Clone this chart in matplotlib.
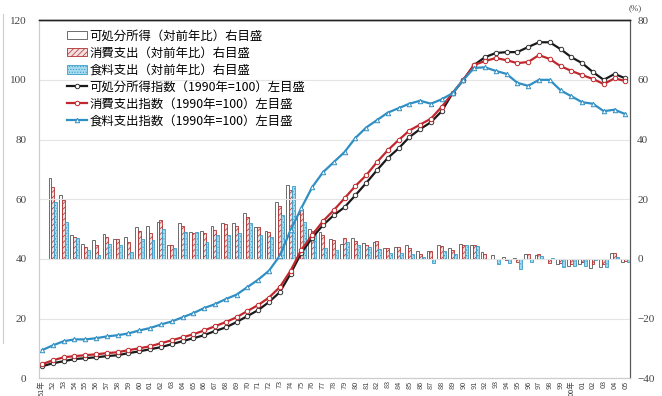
import matplotlib.pyplot as plt
from matplotlib.lines import Line2D
import numpy as np

plt.rcParams['font.family'] = ['Noto Sans CJK JP', 'DejaVu Sans']
plt.rcParams['hatch.linewidth'] = 0.5

years = list(range(1951, 2006))
bar_years = years[1:]

# 指数 (1990年=100)
income_idx = [4.0, 5.0, 5.7, 6.4, 6.7, 7.0, 7.4, 7.7, 8.4, 9.0,
              9.7, 10.4, 11.4, 12.4, 13.4, 14.4, 15.8, 17.0, 18.8, 20.8,
              22.8, 25.5, 28.8, 35.0, 42.0, 47.0, 51.3, 54.6, 57.3, 61.3,
              65.4, 69.7, 73.8, 77.0, 80.8, 83.5, 85.8, 89.5, 95.5, 100.0,
              105.0, 107.6, 109.0, 109.3, 109.3, 111.0, 112.6, 112.6, 110.3, 107.6,
              105.6, 102.6, 100.0, 102.0, 100.5]
cons_idx = [4.7, 6.0, 7.0, 7.4, 7.7, 8.0, 8.4, 8.7, 9.4, 10.0,
            10.7, 11.7, 12.7, 13.7, 14.7, 16.0, 17.4, 18.8, 20.4, 22.5,
            24.5, 27.0, 30.5, 36.0, 43.0, 48.0, 52.6, 56.3, 60.3, 64.4,
            68.0, 72.4, 76.4, 79.8, 83.0, 85.0, 87.0, 91.0, 95.5, 100.0,
            105.0, 106.3, 107.3, 106.6, 105.6, 106.0, 108.3, 107.0, 104.6, 103.0,
            101.6, 100.3, 98.6, 100.5, 99.6]
food_idx = [9.4, 11.0, 12.4, 13.0, 13.0, 13.4, 14.0, 14.4, 15.0, 16.0,
            16.8, 18.0, 19.0, 20.4, 21.8, 23.5, 24.8, 26.5, 28.0, 30.5,
            33.0, 36.0, 41.0, 49.6, 57.0, 64.0, 69.0, 72.4, 75.8, 80.5,
            84.0, 86.5, 89.0, 90.5, 92.0, 93.0, 92.0, 93.5, 95.5, 100.0,
            104.0, 104.2, 103.0, 102.0, 99.0, 98.0, 100.0, 100.0, 96.5, 94.5,
            92.5, 92.0, 89.5, 90.0, 88.5]

# 対前年比 (%)
income_yoy = [27.0, 21.3, 8.0, 5.0, 6.3, 8.3, 6.8, 7.2, 10.7, 11.0,
              12.4, 4.6, 11.9, 9.1, 9.3, 11.0, 11.9, 11.9, 15.5, 10.7,
              9.3, 19.1, 24.7, 15.2, 10.0, 9.0, 6.5, 5.0, 7.0, 5.3,
              5.7, 3.5, 4.0, 4.5, 2.7, 2.7, 4.5, 3.5, 4.9, 4.8,
              2.2, 1.2, 0.5, 0.2, 1.5, 1.4, 0.0, -1.8, -2.5, -1.8,
              -3.0, -2.8, 1.8, -1.2]
cons_yoy = [24.0, 19.6, 7.3, 4.0, 4.6, 7.3, 6.5, 5.7, 9.3, 8.8,
            13.0, 4.6, 11.0, 8.7, 8.7, 9.8, 11.6, 11.1, 13.9, 10.7,
            9.1, 17.8, 23.0, 16.6, 9.5, 8.0, 6.4, 7.0, 6.0, 4.6,
            6.0, 3.5, 4.0, 3.5, 1.5, 2.6, 4.2, 3.0, 4.6, 4.6,
            1.5, 0.1, -0.4, -1.0, 1.5, 1.5, -1.3, -1.5, -1.6, -1.2,
            -1.6, -1.7, 1.8, -0.7]
food_yoy = [19.1, 12.3, 7.0, 3.0, 1.2, 5.0, 4.6, 2.3, 6.5, 6.3,
            9.9, 3.8, 9.1, 9.1, 5.7, 7.9, 7.9, 8.5, 11.9, 7.9,
            7.2, 14.6, 24.4, 12.4, 9.8, 3.6, 3.0, 5.5, 4.7, 4.0,
            3.3, 2.0, 1.9, 1.7, 0.7, -1.3, 2.7, 1.5, 4.5, 4.2,
            0.1, -1.6, -1.5, -3.5, -0.9, 0.9, 0.2, -2.8, -2.3, -2.3,
            -0.4, -2.7, 0.5, -1.2]

xlabels = ['51年'] + ['%02d' % (y % 100) for y in years[1:]]
xlabels[years.index(2000)] = '00年'

fig = plt.figure(figsize=(6.62, 3.96), dpi=100)
ax = fig.add_axes([0.059, 0.045, 0.893, 0.904])
ax2 = ax.twinx()
ax.set_zorder(2)
ax2.set_zorder(1)
ax.patch.set_visible(False)

# 棒グラフ (右目盛)
bx = np.array(bar_years)
w = 0.27
b1 = ax2.bar(bx - w, income_yoy, w, color='white', edgecolor='#555555', linewidth=0.6)
b2 = ax2.bar(bx, cons_yoy, w, color='#f4dede', edgecolor='#b03030', linewidth=0.6, hatch='//////')
b3 = ax2.bar(bx + w, food_yoy, w, color='#a8dcef', edgecolor='#3a9cc8', linewidth=0.6, hatch='......')

# 折れ線 (左目盛)
l1, = ax.plot(years, income_idx, color='#1a1a1a', lw=1.6, marker='o', ms=3.2,
              mfc='white', mec='#333333', mew=0.7)
l2, = ax.plot(years, cons_idx, color='#c0282d', lw=1.6, marker='o', ms=3.2,
              mfc='white', mec='#c0282d', mew=0.7)
l3, = ax.plot(years, food_idx, color='#2f8fc4', lw=1.6, marker='^', ms=3.2,
              mfc='white', mec='#2f8fc4', mew=0.7)

ax.set_xlim(1950.72, 2005.45)
ax.set_ylim(0, 120)
ax2.set_ylim(-40, 80)
ax.set_yticks(range(0, 121, 20))
ax2.set_yticks(range(-40, 81, 20))
ax.set_xticks(years)
ax.set_xticklabels(xlabels, rotation=90, fontsize=5.3, color='#444444')
ax.tick_params(axis='x', length=0, pad=1.5)
ax.tick_params(axis='y', length=0, pad=9)
ax2.tick_params(axis='y', length=0, pad=5)
for t in ax.get_yticklabels() + ax2.get_yticklabels():
    t.set_fontfamily('Liberation Serif')
    t.set_fontsize(8)
    t.set_color('#444444')

ax.grid(axis='y', color='#e4e4e4', lw=0.8)
ax.set_axisbelow(True)
for a in (ax, ax2):
    a.spines['left'].set_color('#cccccc')
    a.spines['bottom'].set_color('#cccccc')
    a.spines['top'].set_color('#222222')
    a.spines['right'].set_color('#555555')
    a.spines['top'].set_linewidth(1.0)

fig.text(0.949, 0.975, '(%)', fontsize=6.5, family='Liberation Serif', color='#444444')
fig.add_artist(Line2D([0.004, 0.004], [0.135, 0.965], color='#cccccc', lw=0.8))

handles = [b1, b2, b3, l1, l2, l3]
labels = ['可処分所得（対前年比）右目盛', '消費支出（対前年比）右目盛', '食料支出（対前年比）右目盛',
          '可処分所得指数（1990年=100）左目盛', '消費支出指数（1990年=100）左目盛',
          '食料支出指数（1990年=100）左目盛']
ax.legend(handles, labels, loc='upper left', bbox_to_anchor=(0.035, 0.995), frameon=False,
          fontsize=8.9, handlelength=1.6, handletextpad=0.2, labelspacing=0.33,
          borderaxespad=0.2)

fig.savefig('out.png', dpi=100)
